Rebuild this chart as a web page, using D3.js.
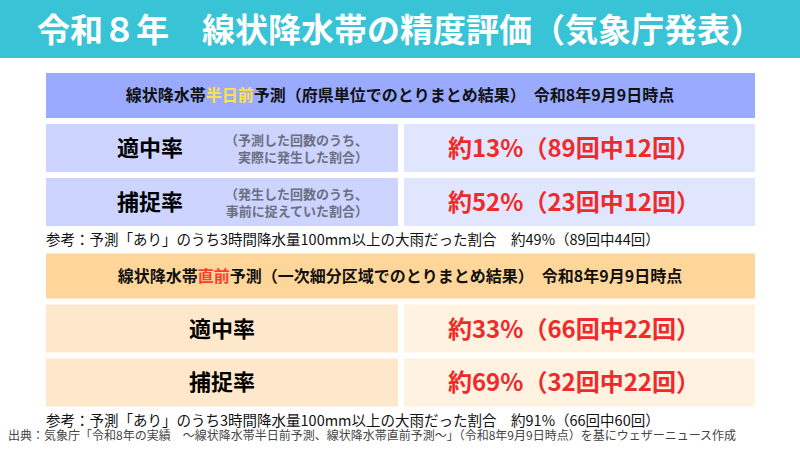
<!DOCTYPE html><html><head><meta charset="utf-8">
<script src="https://cdn.jsdelivr.net/npm/d3@7"></script>
<style>body{margin:0;background:#fff}svg{display:block;font-family:"Noto Sans CJK JP",sans-serif}</style></head><body>
<script>
const title="令和８年　線状降水帯の精度評価（気象庁発表）";
const sections=["半日前","直前"];
const sectionHeads=[["線状降水帯","半日前","予測（府県単位でのとりまとめ結果）　令和8年9月9日時点"],["線状降水帯","直前","予測（一次細分区域でのとりまとめ結果）　令和8年9月9日時点"]];
const metrics=["適中率","捕捉率"];
const metricNotes=[["（予測した回数のうち、","実際に発生した割合）"],["（発生した回数のうち、","事前に捉えていた割合）"]];
const rates=[[13,52],[33,69]];
const totals=[[89,23],[66,32]];
const hits=[[12,12],[22,22]];
const refRates=[49,91], refTotals=[89,66], refHits=[44,60];
const source="出典：気象庁「令和8年の実績　～線状降水帯半日前予測、線状降水帯直前予測～」（令和8年9月9日時点）を基にウェザーニュース作成";
const pal=[{h:"#99aaff",l:"#ccd4ff",r:"#e1e6ff"},{h:"#ffd699",l:"#fde8cc",r:"#fff2e0"}];

const svg=d3.select("body").append("svg").attr("width",800).attr("height",450);
svg.append("rect").attr("width",800).attr("height",58).attr("fill","#38c3d6");
svg.append("text").attr("x",400).attr("y",42).attr("text-anchor","middle").attr("fill","#fff").attr("font-size",33).attr("font-weight",700).text(title);

const secY=d3.scaleBand().domain(d3.range(sections.length)).range([73,434]).paddingInner(0);
const x0=46,x1=755,xm=401;
sections.forEach((s,si)=>{
  const y=secY(si);
  const g=svg.append("g");
  g.append("rect").attr("x",x0).attr("y",y).attr("width",x1-x0).attr("height",45).attr("fill",pal[si].h);
  const t=g.append("text").attr("x",400).attr("y",y+28).attr("text-anchor","middle").attr("font-size",16).attr("font-weight",700).attr("fill","#111");
  t.append("tspan").text(sectionHeads[si][0]);
  t.append("tspan").attr("fill",si==0?"#ffe14d":"#ff3b30").text(sectionHeads[si][1]);
  t.append("tspan").text(sectionHeads[si][2]);
  const rowY=d3.scaleBand().domain(metrics).range([y+51,y+153]).paddingInner(0.11);
  metrics.forEach((m,mi)=>{
    const ry=rowY(m),h=rowY.bandwidth();
    g.append("rect").attr("x",x0).attr("y",ry).attr("width",xm-3-x0).attr("height",h).attr("fill",pal[si].l);
    g.append("rect").attr("x",xm+3).attr("y",ry).attr("width",x1-xm-3).attr("height",h).attr("fill",pal[si].r);
    if(si==0){
      g.append("text").attr("x",150).attr("y",ry+h/2+8).attr("text-anchor","middle").attr("font-size",22).attr("font-weight",700).text(m);
      metricNotes[mi].forEach((n,k)=>g.append("text").attr("x",368).attr("y",ry+h/2-3+k*17).attr("text-anchor","end").attr("font-size",13).attr("font-weight",700).attr("fill","#6b6f80").text(n));
    } else {
      g.append("text").attr("x",222).attr("y",ry+h/2+8).attr("text-anchor","middle").attr("font-size",22).attr("font-weight",700).text(m);
    }
    g.append("text").attr("x",574).attr("y",ry+h/2+9).attr("text-anchor","middle").attr("font-size",24).attr("font-weight",700).attr("fill","#ee2a2a")
      .text(`約${rates[si][mi]}%（${totals[si][mi]}回中${hits[si][mi]}回）`);
  });
  g.append("text").attr("x",46).attr("y",y+172).attr("font-size",14.5).attr("fill","#111")
    .text(`参考：予測「あり」のうち3時間降水量100mm以上の大雨だった割合　約${refRates[si]}%（${refTotals[si]}回中${refHits[si]}回）`);
});
svg.append("text").attr("x",8).attr("y",440).attr("font-size",12).attr("fill","#444").text(source);
</script></body></html>
